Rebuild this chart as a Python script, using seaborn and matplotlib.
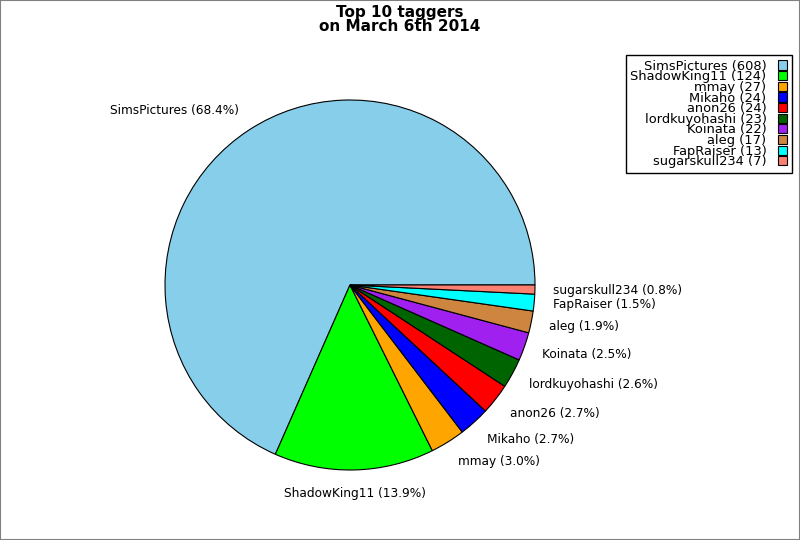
import matplotlib
matplotlib.use("Agg")
import matplotlib.pyplot as plt
import seaborn as sns
from matplotlib.patches import Rectangle

sns.set_style("white")
plt.rcParams['font.family'] = ['DejaVu Sans']
plt.rcParams['text.color'] = 'black'

names = ["SimsPictures", "ShadowKing11", "mmay", "Mikaho", "anon26",
         "lordkuyohashi", "Koinata", "aleg", "FapRaiser", "sugarskull234"]
counts = [608, 124, 27, 24, 24, 23, 22, 17, 13, 7]
colors = ["skyblue", "lime", "orange", "blue", "red",
          "darkgreen", "#a020f0", "peru", "cyan", "salmon"]
title_lines = ["Top 10 taggers", "on March 6th 2014"]

total = sum(counts)
pie_labels = [f"{n} ({c / total * 100:.1f}%)" for n, c in zip(names, counts)]
legend_labels = [f"{n} ({c})" for n, c in zip(names, counts)]
palette = sns.color_palette(colors)

fig = plt.figure(figsize=(8, 5.4), dpi=100)
fig.patch.set_facecolor("white")
ax = fig.add_axes([165 / 800, (540 - 470) / 540, 370 / 800, 370 / 540])

wedges, texts = ax.pie(counts, labels=pie_labels, colors=palette, startangle=0,
                       counterclock=True, labeldistance=1.1,
                       wedgeprops=dict(edgecolor="black", linewidth=0.8),
                       textprops=dict(fontsize=8.7, color="black"))
for t in texts:
    x, y = t.get_position()
    t.set_position((x, y * 1.125 / 1.1))
    if abs(x) < 0.15:
        t.set_horizontalalignment("center")
ax.set_xlim(-1, 1)
ax.set_ylim(-1, 1)
ax.set_aspect("equal")
ax.axis("off")

fig.suptitle("\n".join(title_lines), fontsize=11, fontweight="bold",
             color="black", x=0.5, y=1 - 5 / 540, va="top", linespacing=0.95)

leg = fig.legend(wedges, legend_labels, loc="upper right",
                 bbox_to_anchor=(792 / 800, 1 - 55 / 540), borderaxespad=0,
                 markerfirst=False, fontsize=9.4, handlelength=0.75, handleheight=0.7,
                 handletextpad=0.85, labelspacing=-0.18, borderpad=0.35,
                 fancybox=False, framealpha=1)
leg.get_frame().set_edgecolor("black")
leg.get_frame().set_linewidth(1.0)
for h in leg.legend_handles:
    h.set_linewidth(0.8)
    h.set_edgecolor("black")

fig.add_artist(Rectangle((0, 0), 1, 1, transform=fig.transFigure, fill=False,
                         edgecolor="gray", linewidth=1.5))

fig.savefig("out.png", dpi=100)
